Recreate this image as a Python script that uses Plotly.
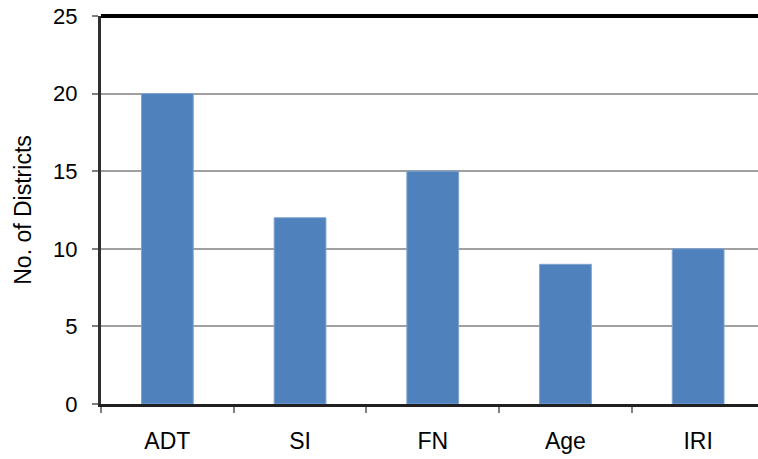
import plotly.graph_objects as go

categories = ["ADT", "SI", "FN", "Age", "IRI"]
values = [20, 12, 15, 9, 10]
y_ticks = [0, 5, 10, 15, 20, 25]

fig = go.Figure()
fig.add_trace(go.Bar(
    x=categories, y=values, width=0.39,
    marker=dict(color="#4F81BD", line=dict(color="#7FA3D0", width=1)),
))

fig.add_shape(type="line", xref="paper", yref="paper", x0=0, x1=1, y0=1, y1=1,
              line=dict(color="black", width=4), layer="above")

font_big = dict(family="Liberation Sans, Arial, sans-serif", size=23, color="black")
font_tick = dict(family="Liberation Sans, Arial, sans-serif", size=22, color="black")

fig.update_layout(
    width=758, height=459,
    margin=dict(l=101, r=0, t=16, b=55),
    paper_bgcolor="white", plot_bgcolor="white",
    showlegend=False,
    font=font_big,
    xaxis=dict(
        range=[-0.5, 4.451],
        tickson="boundaries", ticks="outside", ticklen=6, tickcolor="#808080", tickwidth=2,
        showgrid=False, showline=True, linecolor="#202020", linewidth=3,
        tickfont=font_big, ticklabelstandoff=14,
    ),
    yaxis=dict(
        range=[0, 25], tickvals=y_ticks, ticks="outside", ticklen=6,
        tickcolor="#808080", tickwidth=2,
        showgrid=True, gridcolor="#A0A0A0", gridwidth=2,
        showline=True, linecolor="#303030", linewidth=3,
        zeroline=False, tickfont=font_tick, ticklabelstandoff=10,
        title=dict(text="No. of Districts", font=font_big, standoff=16),
    ),
)

fig.write_html("out.html", config={"displayModeBar": False},
               post_script="document.body.style.margin='0';document.body.style.overflow='hidden';")
